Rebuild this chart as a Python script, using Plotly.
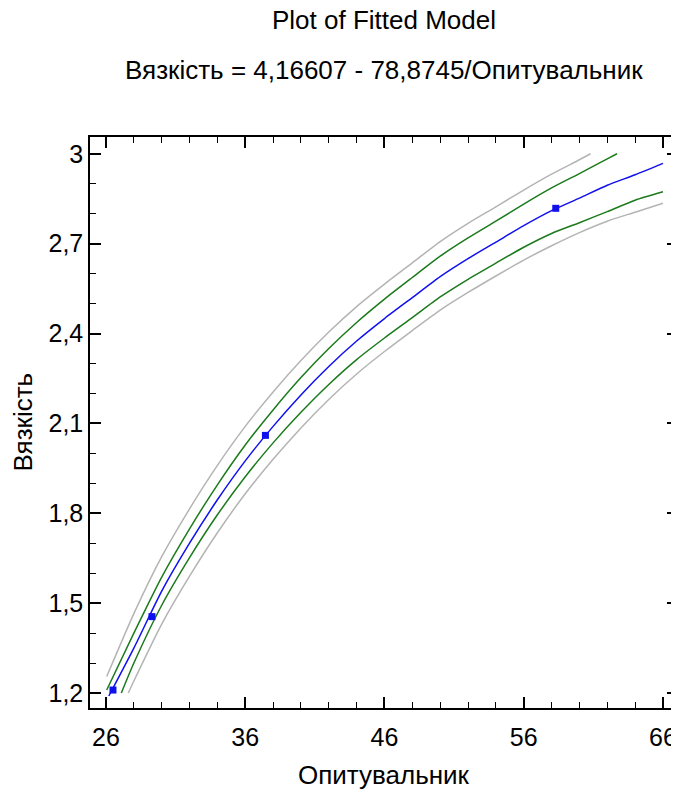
import plotly.graph_objects as go

# ---- data ----
fit_x = [26.2, 28, 30, 32, 34, 36, 38, 40, 42, 44, 46, 48, 50, 52, 54, 56, 58, 60, 62, 64, 66]
fit_y = [1.19, 1.35, 1.54, 1.70, 1.845, 1.975, 2.09, 2.195, 2.29, 2.375, 2.45, 2.52,
         2.59, 2.65, 2.705, 2.76, 2.81, 2.852, 2.895, 2.93, 2.968]

conf_up_x = [26.05, 28, 30, 32, 34, 36, 38, 40, 42, 44, 46, 48, 50, 52, 54, 56, 58, 60, 62, 62.7]
conf_up_y = [1.21, 1.40, 1.587, 1.748, 1.895, 2.028, 2.145, 2.253, 2.35, 2.437, 2.515, 2.587,
             2.658, 2.719, 2.775, 2.832, 2.886, 2.934, 2.983, 3.0]

conf_lo_x = [27.1, 28, 30, 32, 34, 36, 38, 40, 42, 44, 46, 48, 50, 52, 54, 56, 58, 60, 62, 64, 66]
conf_lo_y = [1.20, 1.30, 1.493, 1.652, 1.795, 1.922, 2.035, 2.137, 2.23, 2.313, 2.385, 2.453,
             2.522, 2.581, 2.635, 2.688, 2.734, 2.77, 2.807, 2.845, 2.873]

pred_up_x = [26.05, 28, 30, 32, 34, 36, 38, 40, 42, 44, 46, 48, 50, 52, 54, 56, 58, 60, 60.8]
pred_up_y = [1.255, 1.465, 1.655, 1.815, 1.96, 2.09, 2.205, 2.31, 2.405, 2.49, 2.565, 2.636,
             2.707, 2.768, 2.823, 2.879, 2.932, 2.98, 3.0]

pred_lo_x = [27.6, 28, 30, 32, 34, 36, 38, 40, 42, 44, 46, 48, 50, 52, 54, 56, 58, 60, 62, 64, 66]
pred_lo_y = [1.20, 1.24, 1.43, 1.59, 1.735, 1.865, 1.98, 2.085, 2.18, 2.265, 2.34, 2.41,
             2.478, 2.537, 2.592, 2.645, 2.693, 2.737, 2.775, 2.805, 2.835]

obs_x = [26.5, 29.3, 37.45, 58.3]
obs_y = [1.21, 1.455, 2.06, 2.818]

x_ticks = [26, 36, 46, 56, 66]
y_ticks = [1.2, 1.5, 1.8, 2.1, 2.4, 2.7, 3.0]

FONT = "Liberation Sans, Arial, sans-serif"
GRAY = "#b4b4b4"
GREEN = "#1b7a1b"
BLUE = "#1010ee"

fig = go.Figure()
for xs, ys, col in [(pred_up_x, pred_up_y, GRAY), (pred_lo_x, pred_lo_y, GRAY),
                    (conf_up_x, conf_up_y, GREEN), (conf_lo_x, conf_lo_y, GREEN),
                    (fit_x, fit_y, BLUE)]:
    fig.add_trace(go.Scatter(x=xs, y=ys, mode="lines",
                             line=dict(color=col, width=1.5, shape="spline", smoothing=0.6),
                             showlegend=False, hoverinfo="skip"))
fig.add_trace(go.Scatter(x=obs_x, y=obs_y, mode="markers",
                         marker=dict(symbol="square", size=7, color=BLUE),
                         showlegend=False))

axis_common = dict(showline=True, linecolor="black", linewidth=1.5, mirror="ticks",
                   ticks="inside", ticklen=11, tickwidth=1.5, tickcolor="black",
                   showgrid=False, zeroline=False, automargin=False,
                   tickfont=dict(family=FONT, size=25, color="black"))

fig.update_xaxes(range=[24.85, 67.08], tickvals=x_ticks, ticktext=[str(v) for v in x_ticks],
                 minor=dict(dtick=2, tick0=26, ticks="inside", ticklen=6, tickwidth=1.2,
                            tickcolor="black", showgrid=False),
                 ticklabelstandoff=6,
                 **axis_common)
fig.update_yaxes(range=[1.15, 3.056], tickvals=y_ticks,
                 ticktext=[("%g" % v).replace(".", ",") for v in y_ticks],
                 minor=dict(dtick=0.1, tick0=1.2, ticks="inside", ticklen=6, tickwidth=1.2,
                            tickcolor="black", showgrid=False),
                 ticklabelstandoff=0,
                 **axis_common)

# the page body has an 8px margin, so the figure is sized/placed to compensate
fig.update_layout(
    width=671, height=784,
    margin=dict(l=82, r=1, t=129, b=84),
    plot_bgcolor="white", paper_bgcolor="white",
    font=dict(family=FONT, size=26, color="black"),
    annotations=[
        dict(text="Plot of Fitted Model", xref="paper", yref="paper", x=0.5, y=1,
             yshift=117, xanchor="center", yanchor="middle", showarrow=False,
             font=dict(family=FONT, size=26, color="black")),
        dict(text="Вязкість = 4,16607 - 78,8745/Опитувальник", xref="paper", yref="paper",
             x=0.5, y=1, yshift=67, xanchor="center", yanchor="middle", showarrow=False,
             font=dict(family=FONT, size=26, color="black")),
        dict(text="Опитувальник", xref="paper", yref="paper", x=0.5, y=0, yshift=-67,
             xanchor="center", yanchor="middle", showarrow=False,
             font=dict(family=FONT, size=26, color="black")),
        dict(text="Вязкість", xref="paper", yref="paper", x=0, xshift=-68, y=0.5,
             xanchor="center", yanchor="middle", textangle=-90, showarrow=False,
             font=dict(family=FONT, size=26, color="black")),
    ],
)

fig.write_html("out.html")
